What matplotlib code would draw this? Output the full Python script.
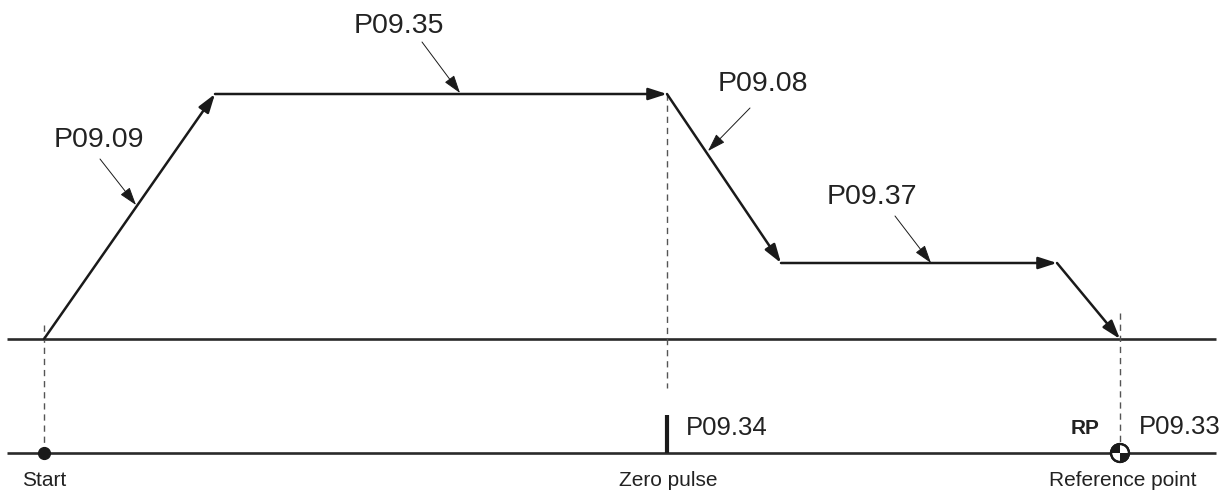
import matplotlib.pyplot as plt
from matplotlib.patches import Wedge, Circle

plt.rcParams['font.family'] = ['Liberation Sans', 'DejaVu Sans']

# speed profile corners (pixel-like units, y grows downward)
prof_x = [44, 215, 667, 781, 1057, 1120]
prof_y = [339, 94, 94, 263, 263, 339]

# parameter labels on the profile: text position, arrow start, arrow tip
par_names = ['P09.09', 'P09.35', 'P09.08', 'P09.37']
par_text_x = [54, 354, 718, 827]
par_text_y = [140, 26, 84, 197]
par_arrow_from = [(100, 159), (422, 42), (750, 108), (895, 216)]
par_arrow_to = [(136, 205), (460, 93), (708, 151), (931, 263)]

# events on the lower line
event_x = [44, 667, 1120]
event_names = ['Start', 'Zero pulse', 'Reference point']
event_label_x = [44, 668, 1123]
dash_top = [325, 94, 313]
dash_bot = [448, 388, 446]

base_y = 339
low_y = 453
line_x0, line_x1 = 7, 1216

fig = plt.figure(figsize=(12.31, 4.93), dpi=100)
ax = fig.add_axes([0, 0, 1, 1])
ax.set_xlim(0, 1231)
ax.set_ylim(493, 0)
ax.axis('off')

ink = '#1a1a1a'

# horizontal lines
ax.plot([line_x0, line_x1], [base_y, base_y], color='#2a2a2a', lw=1.9, solid_capstyle='butt')
ax.plot([line_x0, line_x1], [low_y, low_y], color='#2a2a2a', lw=1.9, solid_capstyle='butt')

# dashed guides
for x, t, b in zip(event_x, dash_top, dash_bot):
    ax.plot([x, x], [t, b], color='#555555', lw=1.0, dashes=(4.5, 3.5))

# profile segments with arrow heads
for i in range(len(prof_x) - 1):
    ax.annotate('', xy=(prof_x[i+1], prof_y[i+1]), xytext=(prof_x[i], prof_y[i]),
                arrowprops=dict(arrowstyle='-|>,head_length=0.62,head_width=0.2',
                                mutation_scale=18, color=ink, lw=1.8,
                                shrinkA=0, shrinkB=0))

# parameter labels
for name, tx, ty, a0, a1 in zip(par_names, par_text_x, par_text_y, par_arrow_from, par_arrow_to):
    ax.text(tx, ty, name, fontsize=20.5, color='#222222', ha='left', va='center')
    ax.annotate('', xy=a1, xytext=a0,
                arrowprops=dict(arrowstyle='-|>,head_length=0.62,head_width=0.2',
                                mutation_scale=18, color=ink, lw=0.7,
                                shrinkA=0, shrinkB=0))

# start dot
ax.plot([event_x[0]], [low_y], 'o', color=ink, ms=8.5)

# zero pulse tick
ax.plot([event_x[1], event_x[1]], [415, low_y], color=ink, lw=3.0, solid_capstyle='butt')
ax.text(686, 428, 'P09.34', fontsize=18.5, color='#222222', ha='left', va='center')

# reference point symbol
cx, r = event_x[2], 9
ax.add_patch(Circle((cx, low_y), r, facecolor='white', edgecolor=ink, lw=1.6, zorder=5))
ax.add_patch(Wedge((cx, low_y), r, 0, 90, facecolor=ink, edgecolor='none', zorder=6))
ax.add_patch(Wedge((cx, low_y), r, 180, 270, facecolor=ink, edgecolor='none', zorder=6))
ax.add_patch(Circle((cx, low_y), r, facecolor='none', edgecolor=ink, lw=1.6, zorder=7))
ax.text(1085, 428, 'RP', fontsize=15, fontweight='bold', color='#222222', ha='center', va='center')
ax.text(1139, 427, 'P09.33', fontsize=18.5, color='#222222', ha='left', va='center')

# event names
for x, name in zip(event_label_x, event_names):
    ax.text(x, 481, name, fontsize=15, color='#222222', ha='center', va='center')

fig.savefig('out.png', dpi=100)
